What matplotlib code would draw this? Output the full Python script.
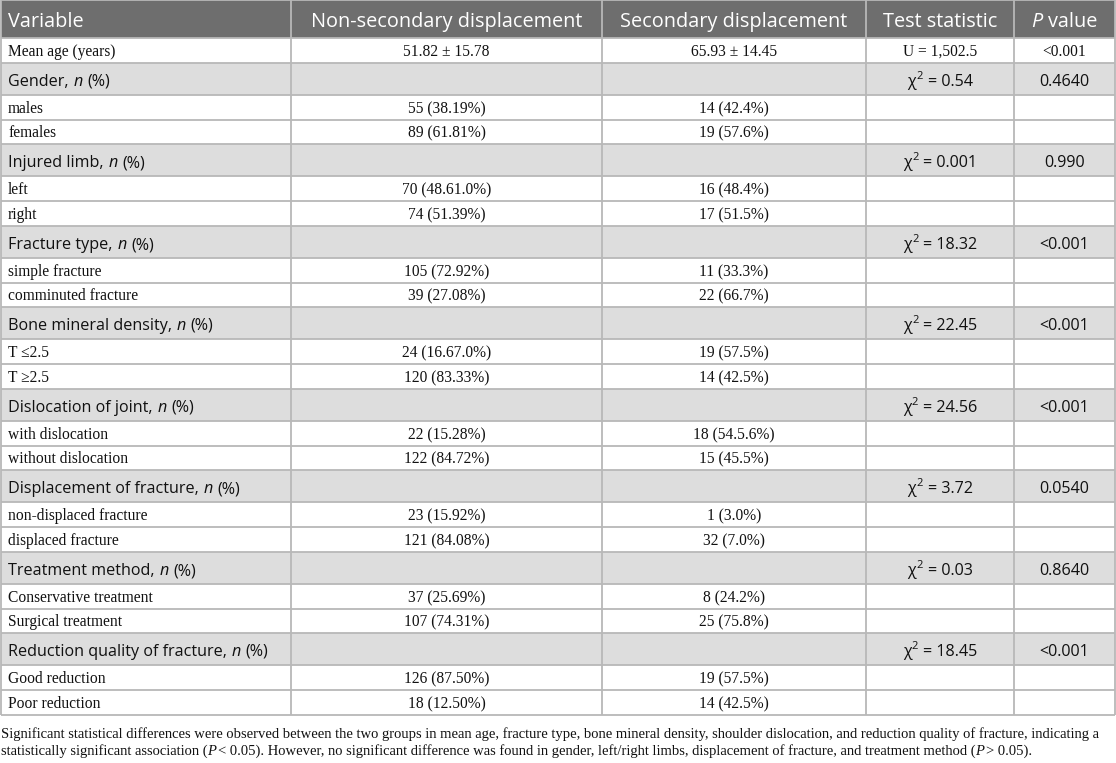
import matplotlib
matplotlib.use('Agg')
import matplotlib.pyplot as plt
from matplotlib.patches import Rectangle

# ---- table content ----
headers = ['Variable', 'Non-secondary displacement', 'Secondary displacement',
           'Test statistic', 'P value']

age_row = ['Mean age (years)', '51.82 ± 15.78', '65.93 ± 14.45', 'U = 1,502.5', '<0.001']

group_names = ['Gender', 'Injured limb', 'Fracture type', 'Bone mineral density',
               'Dislocation of joint', 'Displacement of fracture', 'Treatment method',
               'Reduction quality of fracture']
chi2_values = ['0.54', '0.001', '18.32', '22.45', '24.56', '3.72', '0.03', '18.45']
p_values = ['0.4640', '0.990', '<0.001', '<0.001', '<0.001', '0.0540', '0.8640', '<0.001']

sub_labels = [
    ['males', 'females'],
    ['left', 'right'],
    ['simple fracture', 'comminuted fracture'],
    ['T ≤2.5', 'T ≥2.5'],
    ['with dislocation', 'without dislocation'],
    ['non-displaced fracture', 'displaced fracture'],
    ['Conservative treatment', 'Surgical treatment'],
    ['Good reduction', 'Poor reduction'],
]
non_secondary = [
    ['55 (38.19%)', '89 (61.81%)'],
    ['70 (48.61.0%)', '74 (51.39%)'],
    ['105 (72.92%)', '39 (27.08%)'],
    ['24 (16.67.0%)', '120 (83.33%)'],
    ['22 (15.28%)', '122 (84.72%)'],
    ['23 (15.92%)', '121 (84.08%)'],
    ['37 (25.69%)', '107 (74.31%)'],
    ['126 (87.50%)', '18 (12.50%)'],
]
secondary = [
    ['14 (42.4%)', '19 (57.6%)'],
    ['16 (48.4%)', '17 (51.5%)'],
    ['11 (33.3%)', '22 (66.7%)'],
    ['19 (57.5%)', '14 (42.5%)'],
    ['18 (54.5.6%)', '15 (45.5%)'],
    ['1 (3.0%)', '32 (7.0%)'],
    ['8 (24.2%)', '25 (75.8%)'],
    ['19 (57.5%)', '14 (42.5%)'],
]

note_line1 = ('Significant statistical differences were observed between the two groups in mean age, '
              'fracture type, bone mineral density, shoulder dislocation, and reduction quality of '
              'fracture, indicating a')
note_line2 = [('statistically significant association (', False), ('P', True),
              (' < 0.05). However, no significant difference was found in gender, left/right limbs, '
               'displacement of fracture, and treatment method (', False), ('P', True),
              (' > 0.05).', False)]

# ---- layout (pixels) ----
W, H = 1116, 763
col_x = [1, 291, 602, 866, 1014, 1115]
header_h = 38
data_h = 24.75
group_h = 32

SANS = ['Open Sans', 'Noto Sans', 'DejaVu Sans']
SERIF = ['Liberation Serif', 'DejaVu Serif']
HEADER_BG = '#6e6e6e'
GROUP_BG = '#dddddd'
LINE = '#b8b8b8'

fig = plt.figure(figsize=(W / 100, H / 100), dpi=100)
ax = fig.add_axes([0, 0, 1, 1])
ax.set_xlim(0, W)
ax.set_ylim(H, 0)
ax.axis('off')
fig.canvas.draw()
renderer = fig.canvas.get_renderer()


def ink_width(s, **kw):
    t = ax.text(0, 0, s, **kw)
    w = t.get_window_extent(renderer).width
    t.remove()
    return w


def text_width(s, **kw):
    core = s.strip(' ')
    lead = len(s) - len(s.lstrip(' '))
    trail = len(s) - len(s.rstrip(' '))
    space = ink_width('a a', **kw) - ink_width('aa', **kw)
    w = ink_width(core, **kw) if core else 0
    return w + (lead + trail) * space, lead * space


def draw_runs(x, y, runs, ha='left', gap=0.0):
    # runs: list of (text, style kwargs, vertical offset in px)
    sizes = [text_width(s, **kw) for s, kw, dy in runs]
    total = sum(w for w, _ in sizes) + gap * (len(runs) - 1)
    if ha == 'center':
        x = x - total / 2
    elif ha == 'right':
        x = x - total
    for (s, kw, dy), (w, lead) in zip(runs, sizes):
        ax.text(x + lead, y + dy, s.strip(' '), ha='left', va='baseline', **kw)
        x += w + gap
    return total


def baseline(top, h, size):
    return round(top + h / 2 + 0.36 * size * 100 / 72)


def cell_center(i):
    return (col_x[i] + col_x[i + 1]) / 2


# build row list
rows = [('header', header_h), ('age', data_h)]
for gi in range(len(group_names)):
    rows.append((('group', gi), group_h))
    for si in range(2):
        rows.append((('sub', gi, si), data_h))

SERIF_SIZE = 11.2
SANS_SIZE = 11.6
HEAD_SIZE = 14.3
serif_kw = dict(family=SERIF, fontsize=SERIF_SIZE, color='#111111')
sans_kw = dict(family=SANS, fontsize=SANS_SIZE, color='#111111')

y = 0
for kind, h in rows:
    if kind == 'header':
        ax.add_patch(Rectangle((col_x[0], y), col_x[-1] - col_x[0], h,
                               facecolor=HEADER_BG, edgecolor='none'))
        hkw = dict(family=SANS, fontsize=HEAD_SIZE, color='white')
        by = baseline(y, h, HEAD_SIZE) + 1
        ax.text(col_x[0] + 7, by, headers[0], ha='left', va='baseline', **hkw)
        for i in (1, 2, 3):
            ax.text(cell_center(i), by, headers[i], ha='center', va='baseline', **hkw)
        draw_runs(cell_center(4), by,
                  [(headers[4][0], dict(hkw, style='italic'), 0),
                   (headers[4][1:], hkw, 0)], ha='center')
    elif kind == 'age':
        by = baseline(y, h, SERIF_SIZE)
        ax.text(col_x[0] + 7, by, age_row[0], ha='left', va='baseline', **serif_kw)
        for i in range(1, 5):
            ax.text(cell_center(i), by, age_row[i], ha='center', va='baseline', **serif_kw)
    elif kind[0] == 'group':
        gi = kind[1]
        ax.add_patch(Rectangle((col_x[0], y), col_x[-1] - col_x[0], h,
                               facecolor=GROUP_BG, edgecolor='none'))
        by = baseline(y, h, SANS_SIZE) + 1
        draw_runs(col_x[0] + 7, by,
                  [(group_names[gi] + ', ', sans_kw, 0),
                   ('n', dict(sans_kw, style='italic'), 0),
                   (' (%)', sans_kw, 0)], gap=0.5)
        draw_runs(cell_center(3), by,
                  [('χ', sans_kw, 0),
                   ('2', dict(sans_kw, fontsize=8), -7),
                   (' = ' + chi2_values[gi], sans_kw, 0)], ha='center', gap=0.5)
        ax.text(cell_center(4), by, p_values[gi], ha='center', va='baseline', **sans_kw)
    else:
        gi, si = kind[1], kind[2]
        by = baseline(y, h, SERIF_SIZE)
        ax.text(col_x[0] + 7, by, sub_labels[gi][si], ha='left', va='baseline', **serif_kw)
        ax.text(cell_center(1), by, non_secondary[gi][si], ha='center', va='baseline', **serif_kw)
        ax.text(cell_center(2), by, secondary[gi][si], ha='center', va='baseline', **serif_kw)
    y += h

table_bottom = y

# grid lines
y = 0
for kind, h in rows:
    ax.hlines(y, col_x[0], col_x[-1], color=LINE, lw=1.3)
    y += h
ax.hlines(table_bottom, col_x[0], col_x[-1], color=LINE, lw=1.3)
for x in col_x:
    ax.vlines(x, 0, table_bottom, color=LINE, lw=1.3)

# footnote, sized to span the full width
note_kw = dict(family=SERIF, fontsize=10, color='#111111')
w = ink_width(note_line1, **note_kw)
note_size = 10 * (W - 8) / w
note_kw['fontsize'] = note_size
ax.text(1, 738, note_line1, ha='left', va='baseline', **note_kw)
draw_runs(1, 755, [(s, dict(note_kw, style='italic') if it else note_kw, 0)
                   for s, it in note_line2], gap=-1.0)

fig.savefig('out.png', dpi=100)
